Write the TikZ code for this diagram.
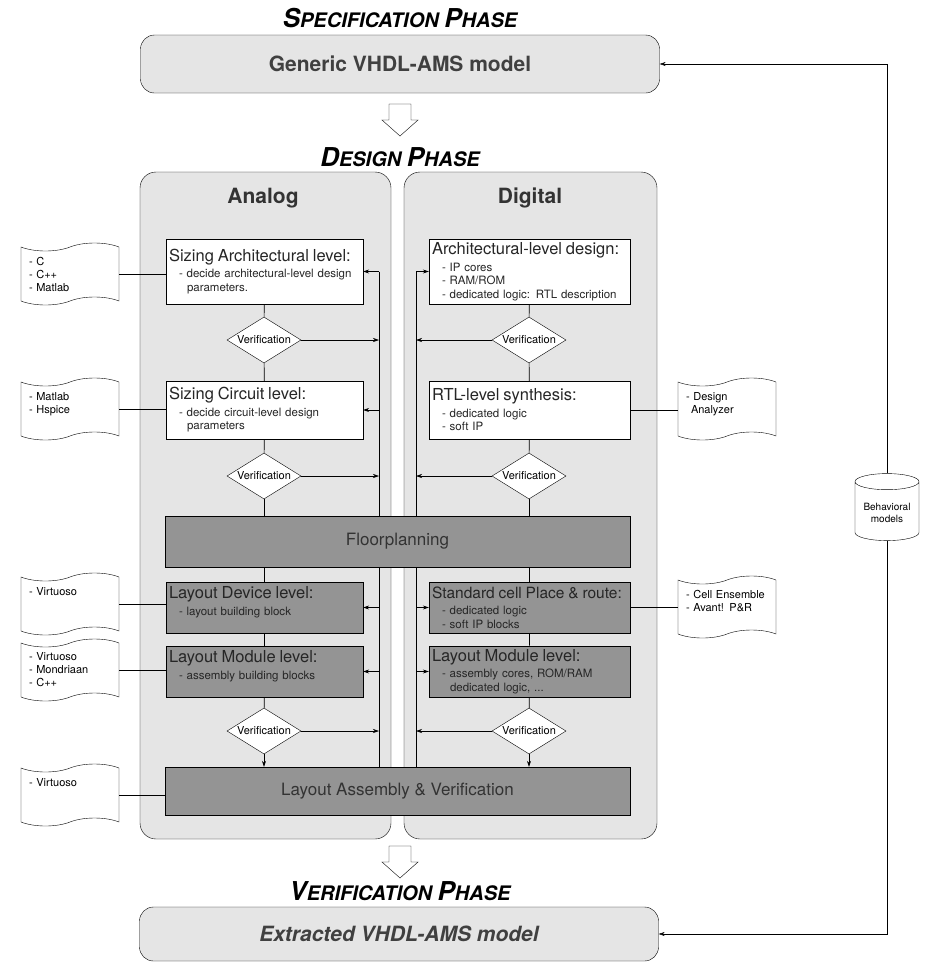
\documentclass[tikz,border=0pt]{standalone}
\usepackage{fontspec}
\setmainfont{TeX Gyre Heros}
\usetikzlibrary{shapes.geometric,shapes.symbols,arrows.meta}
\newcommand{\capword}[2]{{\fontsize{26}{30}\selectfont #1}{\fontsize{20}{24}\selectfont #2}}
\newcommand{\boxhead}[2][16.5]{{\fontsize{#1}{19}\selectfont #2}\\[3pt]}
\newcommand{\itemind}{\hspace*{10pt}}
\newcommand{\contind}{\hspace*{18pt}}

\begin{document}
\begin{tikzpicture}[x=1pt,y=-1pt,
    title/.style={font=\bfseries\itshape\fontsize{20}{24}\selectfont},
    phase/.style={draw,rounded corners=14pt,fill=black!10,minimum width=519pt,text=black!75,font=\bfseries\fontsize{21}{25}\selectfont},
    panel/.style={draw,rounded corners=16pt,fill=black!10,minimum height=667pt},
    head/.style={font=\bfseries\fontsize{21}{25}\selectfont,text=black!80},
    box/.style={draw,fill=white,align=left,inner xsep=3pt,text=black!85,font=\fontsize{11.5}{13.5}\selectfont},
    dark/.style={box,fill=black!42},
    wide/.style={draw,fill=black!42,minimum width=465pt,text=black!80,font=\fontsize{17}{20}\selectfont},
    verif/.style={draw,fill=white,diamond,aspect=1.6,inner sep=0pt,minimum width=74pt,minimum height=46pt,font=\fontsize{11}{13}\selectfont},
    tool/.style={draw,fill=white,tape,tape bend height=8pt,minimum width=98pt,minimum height=62pt,text width=82pt,align=left,font=\fontsize{11}{13}\selectfont},
    fb/.style={-{Stealth[length=6pt,width=4pt]}},
    flow/.style={line width=0.6pt}]
  \useasboundingbox (0,0) rectangle (933,964);

  \node[title] (spectitle) at (400,18) {\capword{S}{PECIFICATION} \capword{P}{HASE}};
  \node[phase,minimum height=58pt] (spec) at (400,64) {Generic VHDL-AMS model};
  \draw[fill=white] (389,104) -- (411,104) -- (411,120) -- (418,120) -- (400,136) -- (382,120) -- (389,120) -- cycle;
  \node[title] (designtitle) at (400,157) {\capword{D}{ESIGN} \capword{P}{HASE}};

  \node[panel,minimum width=251pt] (analog) at (265.5,505.5) {};
  \node[panel,minimum width=253pt] (digital) at (530.5,505.5) {};
  \node[head] (analoghead) at (263,198) {Analog};
  \node[head] (digitalhead) at (530,198) {Digital};
  \coordinate (abus) at (379,0);
  \coordinate (dbus) at (416,0);

  \node[box,text width=191pt,minimum height=65pt] (sizarch) at (264.5,271.5)
    {\boxhead{Sizing Architectural level:}\itemind- decide architectural-level design\\\contind parameters.};
  \node[verif] (averif1) at (264,340) {Verification};
  \node[box,text width=191pt,minimum height=58pt] (sizcirc) at (264.5,410)
    {\boxhead{Sizing Circuit level:}\itemind- decide circuit-level design\\\contind parameters};
  \node[verif] (averif2) at (264,476) {Verification};
  \node[wide,minimum height=51pt] (floor) at (397.5,541.5) {Floorplanning};
  \node[dark,text width=191pt,minimum height=51pt] (adevice) at (264.5,607.5)
    {\boxhead{Layout Device level:}\itemind- layout building block\\~};
  \node[dark,text width=191pt,minimum height=51pt] (amodule) at (264.5,671.5)
    {\boxhead{Layout Module level:}\itemind- assembly building blocks\\~};
  \node[verif] (averif3) at (264,731) {Verification};
  \node[wide,minimum height=48pt] (assembly) at (397.5,791) {Layout Assembly \& Verification};

  \node[box,text width=195pt,minimum height=65pt] (darch) at (529.5,271.5)
    {\boxhead{Architectural-level design:}\itemind- IP cores\\\itemind- RAM/ROM\\\itemind- dedicated logic: RTL description};
  \node[verif] (dverif1) at (529,340) {Verification};
  \node[box,text width=195pt,minimum height=58pt] (rtl) at (529.5,410)
    {\boxhead{RTL-level synthesis:}\itemind- dedicated logic\\\itemind- soft IP};
  \node[verif] (dverif2) at (529,476) {Verification};
  \node[dark,text width=195pt,minimum height=51pt] (stdcell) at (529.5,607.5)
    {\boxhead[15.5]{Standard cell Place \& route:}\itemind- dedicated logic\\\itemind- soft IP blocks};
  \node[dark,text width=195pt,minimum height=51pt] (dmodule) at (529.5,671.5)
    {\boxhead{Layout Module level:}\itemind- assembly cores, ROM/RAM\\\contind dedicated logic, ...};
  \node[verif] (dverif3) at (529,731) {Verification};

  \draw[fill=white] (389,846) -- (411,846) -- (411,862) -- (418,862) -- (400,878) -- (382,862) -- (389,862) -- cycle;
  \node[title] (veriftitle) at (400,891) {\capword{V}{ERIFICATION} \capword{P}{HASE}};
  \node[phase,minimum height=54pt,font=\bfseries\itshape\fontsize{21}{25}\selectfont] (extr) at (399,934) {Extracted VHDL-AMS model};

  \node[tool] (tool1) at (70,274) {- C\\- C++\\- Matlab};
  \node[tool] (tool2) at (70,409) {- Matlab\\- Hspice\\~};
  \node[tool] (tool3) at (70,604) {- Virtuoso\\~\\~};
  \node[tool] (tool4) at (70,670) {- Virtuoso\\- Mondriaan\\- C++};
  \node[tool] (tool5) at (70,795) {- Virtuoso\\~\\~};
  \node[tool] (tool6) at (727,409) {- Design\\\hspace*{5pt}Analyzer\\~};
  \node[tool] (tool7) at (727,607) {- Cell Ensemble\\- Avant! P\&R\\~};
  \node[draw,fill=white,cylinder,shape border rotate=90,aspect=0.3,minimum width=64pt,minimum height=67pt,align=center,font=\fontsize{10}{12}\selectfont] (beh) at (887,513) {Behavioral\\models};

  \begin{scope}[flow]
    \draw (sizarch) -- (averif1) -- (sizcirc) -- (averif2);
    \draw (averif2.south) -- (averif2.south |- floor.north);
    \draw (adevice.north |- floor.south) -- (adevice.north);
    \draw (adevice) -- (amodule) -- (averif3);
    \draw[fb] (averif3.south) -- (averif3.south |- assembly.north);
    \draw (darch) -- (dverif1) -- (rtl) -- (dverif2);
    \draw (dverif2.south) -- (dverif2.south |- floor.north);
    \draw (stdcell.north |- floor.south) -- (stdcell.north);
    \draw (stdcell) -- (dmodule) -- (dverif3);
    \draw[fb] (dverif3.south) -- (dverif3.south |- assembly.north);

    \draw (sizarch.east -| abus) -- (floor.north -| abus);
    \draw (floor.south -| abus) -- (assembly.north -| abus);
    \draw[fb] (sizarch.east -| abus) -- (sizarch.east);
    \draw[fb] (averif1.east) -- (averif1.east -| abus);
    \draw[fb] (sizcirc.east -| abus) -- (sizcirc.east);
    \draw[fb] (averif2.east) -- (averif2.east -| abus);
    \draw[fb] (adevice.east -| abus) -- (adevice.east);
    \draw[fb] (amodule.east -| abus) -- (amodule.east);
    \draw[fb] (averif3.east) -- (averif3.east -| abus);

    \draw (darch.west -| dbus) -- (floor.north -| dbus);
    \draw (floor.south -| dbus) -- (assembly.north -| dbus);
    \draw[fb] (darch.west -| dbus) -- (darch.west);
    \draw[fb] (dverif1.west) -- (dverif1.west -| dbus);
    \draw[fb] (dverif2.west) -- (dverif2.west -| dbus);
    \draw[fb] (stdcell.west -| dbus) -- (stdcell.west);
    \draw[fb] (dmodule.west -| dbus) -- (dmodule.west);
    \draw[fb] (dverif3.west) -- (dverif3.west -| dbus);

    \draw (tool1.east) -- (tool1.east -| sizarch.west);
    \draw (tool2.east) -- (tool2.east -| sizcirc.west);
    \draw (tool3.east) -- (tool3.east -| adevice.west);
    \draw (tool4.east) -- (tool4.east -| amodule.west);
    \draw (tool5.east) -- (tool5.east -| assembly.west);
    \draw (rtl.east) -- (rtl.east -| tool6.west);
    \draw (stdcell.east) -- (stdcell.east -| tool7.west);
  \end{scope}
  \draw[thin,fb] (beh.north) |- (spec.east);
  \draw[thin,fb] (beh.south) |- (extr.east);
\end{tikzpicture}
\end{document}
